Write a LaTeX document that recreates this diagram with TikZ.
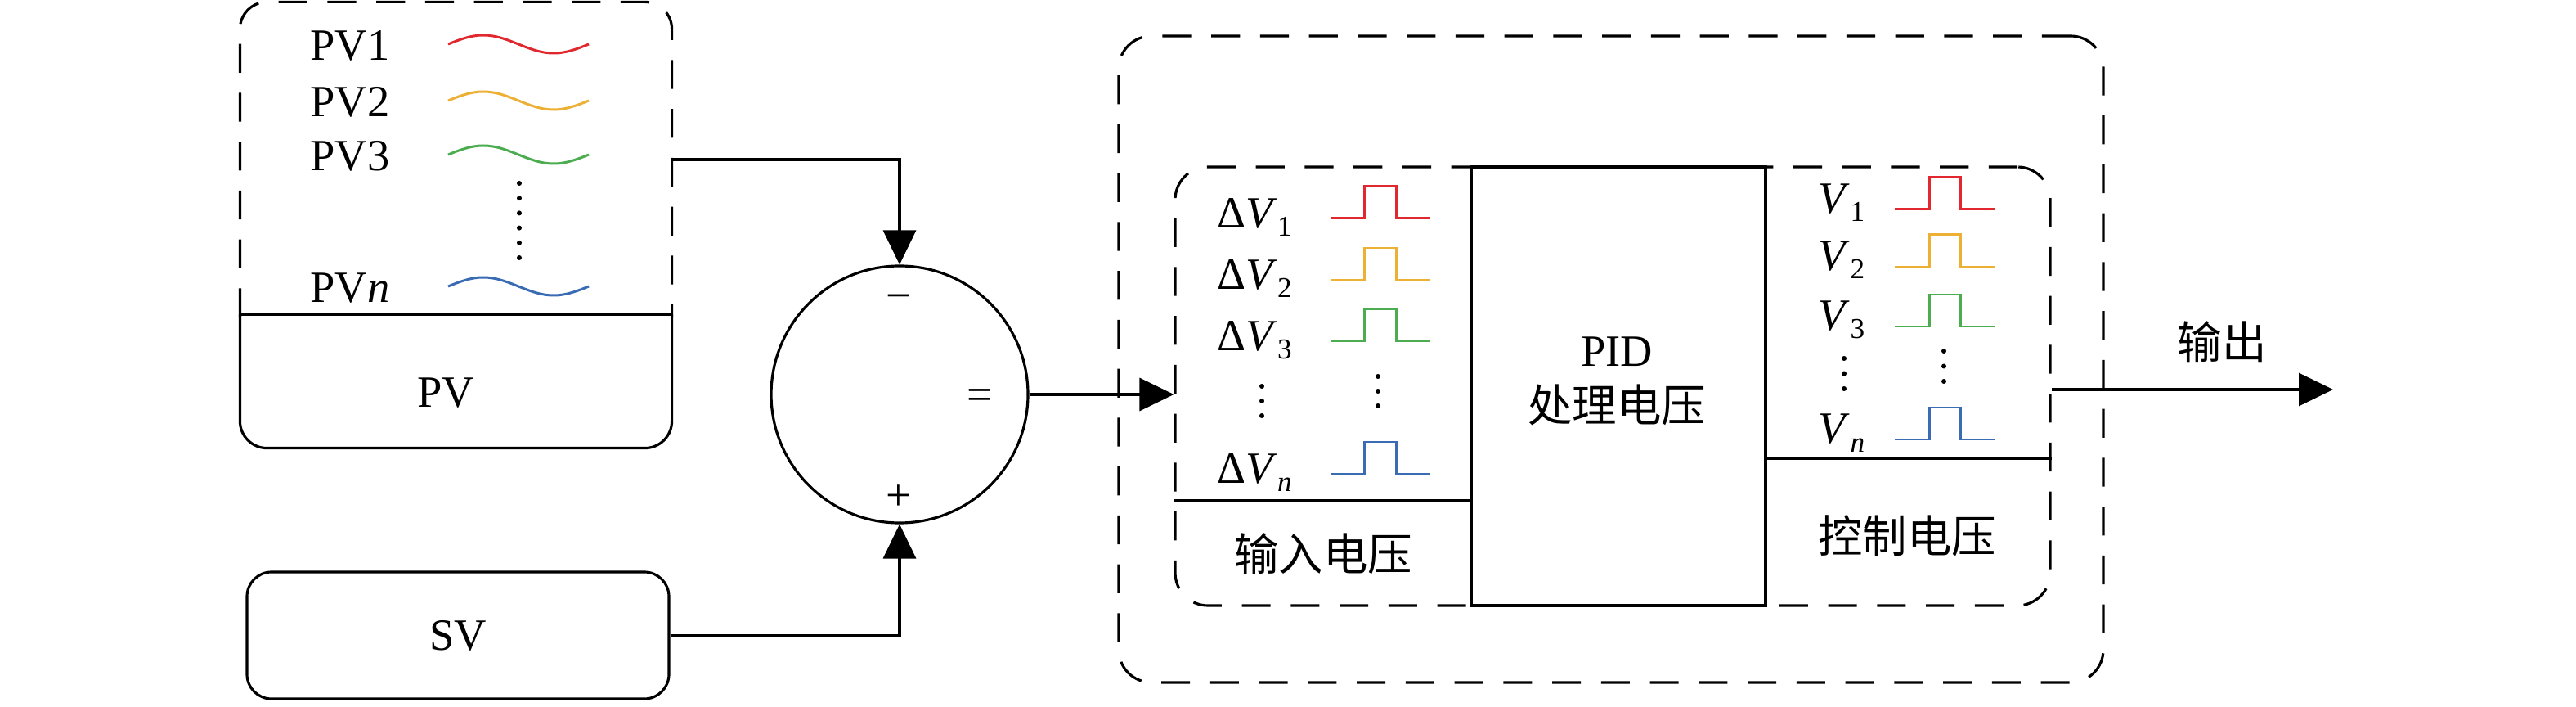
\documentclass[tikz,border=0pt]{standalone}
\usepackage{fontspec}
\setmainfont{Liberation Serif}
\newfontfamily\cjk{Noto Sans CJK SC}
\usetikzlibrary{arrows.meta}
\definecolor{sigred}{RGB}{224,40,46}
\definecolor{sigyel}{RGB}{236,176,52}
\definecolor{siggrn}{RGB}{76,172,80}
\definecolor{sigblu}{RGB}{58,108,180}
\newcommand{\vsub}[1]{\raisebox{-0.1cm}{\fontsize{10}{10}\selectfont #1}}

\begin{document}
\begin{tikzpicture}[line width=0.9pt,
					every node/.style={font=\fontsize{15.5}{18}\selectfont, inner sep=0pt},
					cn/.style={font=\cjk\fontsize{15.5}{18}\selectfont},
					dashbox/.style={draw, dash pattern=on 10pt off 7pt, rounded corners=0.4cm},
					solidbox/.style={draw, rounded corners=0.3cm},
					sumnode/.style={draw, circle, minimum size=3.14cm},
					sig/.style={line width=0.85pt},
					arr/.style={-{Triangle[length=0.42cm,width=0.4cm]}}]
    \useasboundingbox (0,0) rectangle (31.5,-8.64);
    % Place nodes
    \node (pvsig) [minimum width=5.25cm, minimum height=3.82cm] at (5.575,-1.95) {};
    \node (pv) [minimum width=5.25cm, minimum height=1.60cm] at (5.575,-4.66) {};
    \node (pvlab) at (5.45,-4.80) {PV};
    \node [solidbox, minimum width=5.16cm, minimum height=1.55cm] (sv) at (5.60,-7.765) {SV};
    \node [sumnode] (sum) at (11.00,-4.82) {};
    \node (minus) at (10.99,-3.70) {−};
    \node (plus) at (10.99,-6.08) {+};
    \node (equal) at (11.98,-4.88) {=};
    \node [dashbox, minimum width=12.04cm, minimum height=7.90cm] (outer) at (19.70,-4.39) {};
    \node [dashbox, minimum width=10.70cm, minimum height=5.36cm] (inbox) at (19.72,-4.72) {};
    \node [draw, fill=white, minimum width=3.60cm, minimum height=5.36cm] (pid) at (19.79,-4.72) {};
    \node [align=center] (pidtext) at (19.77,-4.66) {PID\\[0.05cm]{\cjk 处理电压}};
    \node [cn] (inlab) at (16.18,-6.77) {输入电压};
    \node [cn] (ctrllab) at (23.32,-6.55) {控制电压};
    \node [cn] (outlab) at (27.17,-4.18) {输出};
    \coordinate (out) at (28.53,-4.76);

    % PV frame
    \draw [dash pattern=on 10pt off 7pt, rounded corners=0.33cm] (pvsig.south west) -- (pvsig.north west) -- (pvsig.north east) -- (pvsig.south east);
    \draw [rounded corners=0.33cm] (pv.north west) -- (pv.south west) -- (pv.south east) -- (pv.north east);
    \draw (pv.north west) -- (pv.north east);
    \draw (inbox.west |- 0,-6.12) -- (pid.west |- 0,-6.12);
    \draw (pid.east |- 0,-5.60) -- (inbox.east |- 0,-5.60);

    % Signals
    \foreach \i/\n/\y/\c in {1/1/0.74/sigred, 2/2/1.43/sigyel, 3/3/2.09/siggrn, 4/\textit{n}/3.70/sigblu} {
    	\node [anchor=base west] (pvl\i) at (3.78,-\y) {PV\n};
    	\draw [\c, sig] (5.48,-\y+0.2) sin ++(0.43,0.11) cos ++(0.43,-0.11) sin ++(0.43,-0.11) cos ++(0.43,0.11);
    }
    \foreach \i/\n/\y/\c in {1/1/2.67/sigred, 2/2/3.42/sigyel, 3/3/4.17/siggrn, 4/\textit{n}/5.79/sigblu} {
    	\node [anchor=base] (dv\i) at (15.34,-\y-0.12) {Δ\textit{V}\vsub{\n}};
    	\draw [\c, sig] (16.27,-\y) -- ++(0.41,0) -- ++(0,0.39) -- ++(0.39,0) -- ++(0,-0.39) -- ++(0.42,0);
    }
    \foreach \i/\n/\y/\c in {1/1/2.56/sigred, 2/2/3.26/sigyel, 3/3/3.99/siggrn, 4/\textit{n}/5.37/sigblu} {
    	\node [anchor=base] (v\i) at (22.52,-\y-0.05) {\textit{V}\vsub{\n}};
    	\draw [\c, sig] (23.17,-\y) -- ++(0.42,0) -- ++(0,0.39) -- ++(0.38,0) -- ++(0,-0.39) -- ++(0.43,0);
    }
    \foreach \k in {0,...,5} \fill (6.35,-2.24-0.182*\k) circle (0.03);
    \foreach \k in {0,1,2} {
    	\fill (15.43,-4.72-0.18*\k) circle (0.03);
    	\fill (16.85,-4.60-0.18*\k) circle (0.03);
    	\fill (22.55,-4.38-0.185*\k) circle (0.03);
    	\fill (23.77,-4.29-0.185*\k) circle (0.03);
    }

    % Draw edges
    \draw [arr] (pvsig.east) -| (sum.north);
    \draw [arr] (sv.east) -| (sum.south);
    \draw [arr] (sum.east) -- (sum.east -| inbox.west);
    \draw [arr] (out -| inbox.east) -- (out);
\end{tikzpicture}
\end{document}
